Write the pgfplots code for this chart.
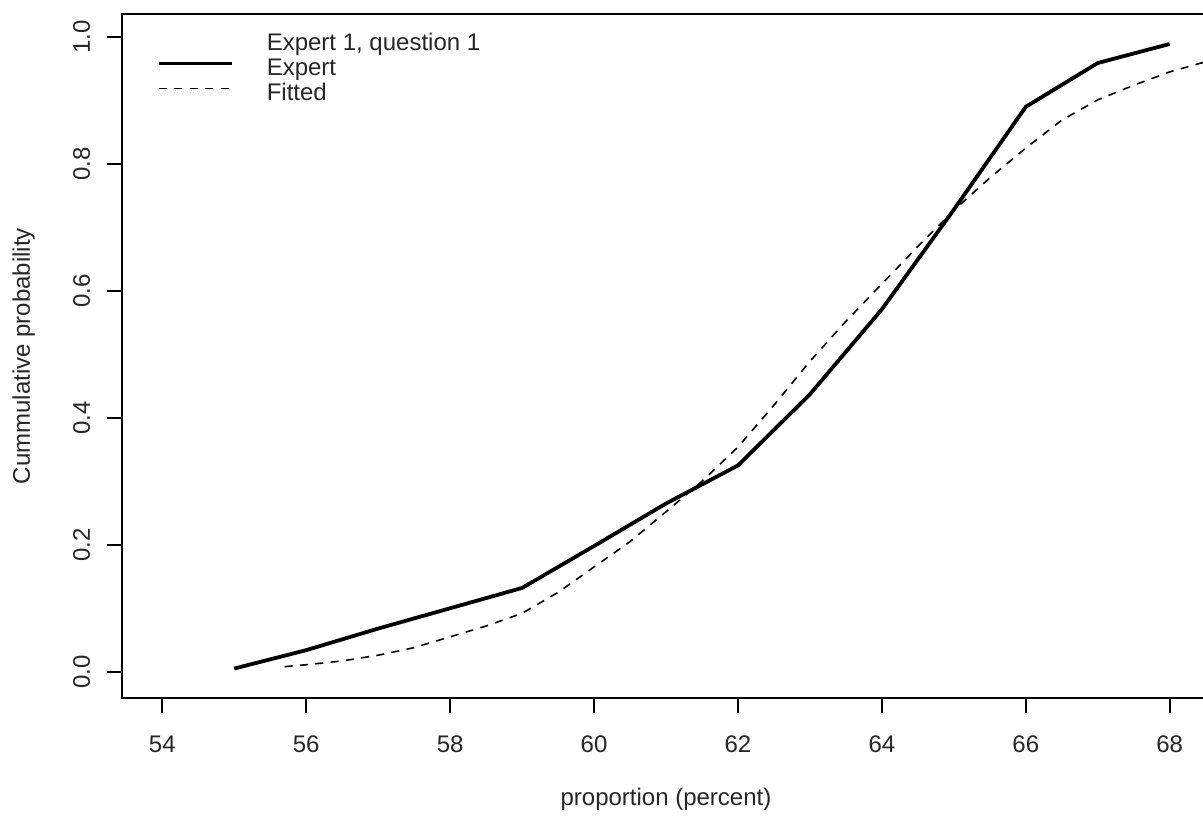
\documentclass[border=0pt]{standalone}
\usepackage{pgfplots}
\pgfplotsset{compat=1.18}
\usepackage{fontspec}
\setmainfont{Liberation Sans}

\pgfplotstableread{
x y
55 0.005
56 0.034
57 0.068
58 0.100
59 0.132
60 0.198
61 0.265
62 0.325
63 0.437
64 0.571
65 0.728
66 0.890
67 0.959
68 0.989
}\expertdata

\pgfplotstableread{
x y
55.7 0.008
56 0.011
56.5 0.017
57 0.026
57.5 0.038
58 0.055
58.5 0.072
59 0.092
59.5 0.125
60 0.165
60.5 0.205
61 0.252
61.5 0.300
62 0.354
62.5 0.420
63 0.489
63.5 0.552
64 0.611
64.5 0.670
65 0.727
65.5 0.778
66 0.825
66.5 0.869
67 0.901
67.5 0.924
68 0.945
68.5 0.961
}\fitteddata

\begin{document}
\begin{tikzpicture}
\begin{axis}[
  at={(0,0)}, anchor=south west,
  scale only axis, width=544pt, height=342pt,
  xmin=53.44, xmax=68.56, ymin=-0.0414, ymax=1.0362,
  xtick={54,56,58,60,62,64,66,68},
  ytick={0,0.2,0.4,0.6,0.8,1},
  yticklabels={0.0,0.2,0.4,0.6,0.8,1.0},
  /pgf/number format/assume math mode=true,
  tick pos=left, tick align=outside, major tick length=7.5pt,
  every tick/.style={line width=0.9pt, black},
  axis line style={line width=0.9pt, black},
  tick label style={font=\fontsize{12}{14}\selectfont, text=black!85},
  xticklabel style={anchor=base, yshift=-19.8pt},
  yticklabel style={xshift=-8.5pt, rotate=90, anchor=base},
  xlabel={proportion (percent)},
  ylabel={Cummulative probability},
  every axis x label/.style={at={(axis description cs:0.5,0)}, anchor=base, yshift=-53.5pt, font=\fontsize{12}{14}\selectfont, text=black!85},
  every axis y label/.style={at={(axis description cs:0,0.5)}, xshift=-46pt, rotate=90, anchor=base, font=\fontsize{12}{14}\selectfont, text=black!85},
  legend style={at={(axis description cs:0,1)}, anchor=north west, xshift=17.5pt, yshift=-9pt,
    draw=none, fill=none, inner sep=0pt, outer sep=0pt, row sep=0pt, column sep=16.5pt,
    font=\fontsize{12}{12.5}\selectfont, text=black!85,
    nodes={inner sep=0pt, text height=9pt, text depth=3.5pt}},
  legend cell align=left,
  legend image code/.code={\draw[#1] (0pt,3pt) -- (36.5pt,3pt);},
]
\addlegendimage{empty legend}
\addlegendentry{Expert 1, question 1}
\addplot[black, line width=1.9pt, line join=round] table[x=x, y=y] {\expertdata};
\addlegendentry{Expert}
\addplot[black, line width=0.8pt, dash pattern=on 4pt off 3.7pt] table[x=x, y=y] {\fitteddata};
\addlegendentry{Fitted}
\end{axis}
\pgfresetboundingbox
\path[use as bounding box] (-61pt,-58.5pt) rectangle (540.5pt,349pt);
\end{tikzpicture}
\end{document}
